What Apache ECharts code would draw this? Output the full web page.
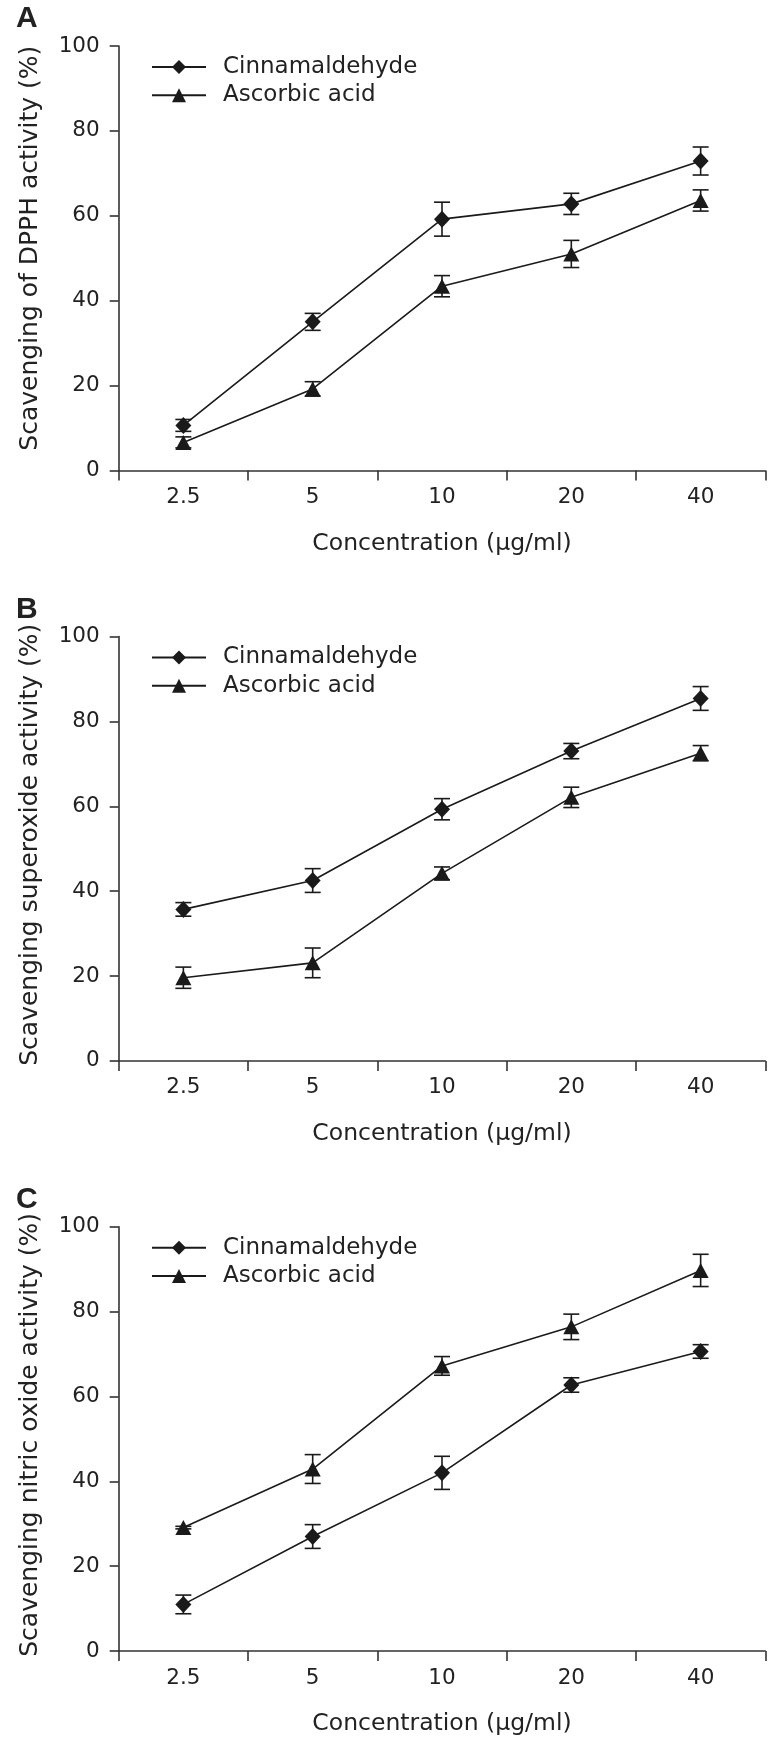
<!DOCTYPE html>
<html><head><meta charset="utf-8">
<script src="https://cdn.jsdelivr.net/npm/echarts@6/dist/echarts.min.js"></script>
<style>html,body{margin:0;padding:0;background:#fff}#c{width:776px;height:1739px}</style>
</head><body><div id="c"></div>
<script>
// ---- data ----
const categories = ['2.5', '5', '10', '20', '40'];
const seriesNames = ['Cinnamaldehyde', 'Ascorbic acid'];
const panelLetters = ['A', 'B', 'C'];
const yTitles = ['Scavenging of DPPH activity (%)', 'Scavenging superoxide activity (%)', 'Scavenging nitric oxide activity (%)'];
const xTitle = 'Concentration (\u03bcg/ml)';
const yMin = 0, yMax = 100, yStep = 20;

// Panel A: DPPH
const dpphCinn = [10.6, 35.0, 59.2, 62.8, 72.9];
const dpphCinnErr = [1.4, 2.0, 4.0, 2.5, 3.3];
const dpphAsc = [6.6, 19.2, 43.4, 51.0, 63.6];
const dpphAscErr = [1.3, 1.7, 2.5, 3.2, 2.5];
// Panel B: superoxide
const supCinn = [35.7, 42.5, 59.3, 73.0, 85.4];
const supCinnErr = [1.6, 2.8, 2.5, 1.8, 2.8];
const supAsc = [19.6, 23.1, 44.2, 62.1, 72.5];
const supAscErr = [2.5, 3.5, 1.5, 2.4, 1.8];
// Panel C: nitric oxide
const noCinn = [11.0, 27.0, 42.0, 62.7, 70.6];
const noCinnErr = [2.2, 2.8, 3.9, 1.7, 1.6];
const noAsc = [29.1, 42.9, 67.2, 76.4, 89.7];
const noAscErr = [0.3, 3.4, 2.2, 3.0, 3.8];

const panels = [
  { cinn: dpphCinn, cinnErr: dpphCinnErr, asc: dpphAsc, ascErr: dpphAscErr },
  { cinn: supCinn, cinnErr: supCinnErr, asc: supAsc, ascErr: supAscErr },
  { cinn: noCinn, cinnErr: noCinnErr, asc: noAsc, ascErr: noAscErr }
];

// ---- layout ----
const FONT = 'DejaVu Sans';
const INK = '#1a1a1a';
const AXIS = '#333';
const gridTops = [46, 636.5, 1226.7];
const gridH = 424.4;
const gridLeft = 118.7;
const gridRight = 10.7;
const yTitleShift = [20, 8, 8];

function errRender(params, api) {
  const i = api.value(0), v = api.value(1), e = api.value(2);
  const t = api.coord([i, v + e]);
  const b = api.coord([i, v - e]);
  const hw = 8;
  const st = { stroke: INK, lineWidth: 1.6 };
  return {
    type: 'group',
    children: [
      { type: 'line', shape: { x1: t[0], y1: t[1], x2: b[0], y2: b[1] }, style: st },
      { type: 'line', shape: { x1: t[0] - hw, y1: t[1], x2: t[0] + hw, y2: t[1] }, style: st },
      { type: 'line', shape: { x1: b[0] - hw, y1: b[1], x2: b[0] + hw, y2: b[1] }, style: st }
    ]
  };
}

const grid = [], xAxis = [], yAxis = [], series = [], legend = [], graphic = [];

panels.forEach((p, k) => {
  grid.push({ left: gridLeft, right: gridRight, top: gridTops[k], height: gridH, containLabel: false });
  xAxis.push({
    type: 'category', gridIndex: k, data: categories, boundaryGap: true,
    name: xTitle, nameLocation: 'middle', nameGap: 61,
    nameTextStyle: { fontFamily: FONT, fontSize: 23.5, color: '#222' },
    axisLine: { lineStyle: { color: AXIS, width: 1.6 } },
    axisTick: { show: true, inside: false, length: 10, alignWithLabel: false, lineStyle: { color: AXIS, width: 1.6 } },
    axisLabel: { fontFamily: FONT, fontSize: 21.5, color: '#222', margin: 16 },
    splitLine: { show: false }
  });
  yAxis.push({
    type: 'value', gridIndex: k, min: yMin, max: yMax, interval: yStep,
    name: yTitles[k], nameLocation: 'middle', nameGap: 76,
    nameTextStyle: { fontFamily: FONT, fontSize: 25, color: '#222', padding: [0, 0, 0, yTitleShift[k]] },
    axisLine: { show: true, lineStyle: { color: AXIS, width: 1.6 } },
    axisTick: { show: true, inside: false, length: 9, lineStyle: { color: AXIS, width: 1.6 } },
    axisLabel: { fontFamily: FONT, fontSize: 21.5, color: '#222', margin: 19 },
    splitLine: { show: false }
  });
  const groups = [
    { name: seriesNames[0], vals: p.cinn, errs: p.cinnErr, symbol: 'diamond', size: [16, 17] },
    { name: seriesNames[1], vals: p.asc, errs: p.ascErr, symbol: 'triangle', size: [16, 15] }
  ];
  groups.forEach(g => {
    series.push({
      type: 'custom', xAxisIndex: k, yAxisIndex: k, z: 1, silent: true,
      renderItem: errRender,
      encode: { x: 0, y: 1 },
      data: g.vals.map((v, i) => [i, v, g.errs[i]])
    });
    series.push({
      type: 'line', name: g.name, xAxisIndex: k, yAxisIndex: k, z: 3,
      data: g.vals, symbol: g.symbol, symbolSize: g.size, showSymbol: true,
      lineStyle: { color: INK, width: 1.6 },
      itemStyle: { color: INK, borderWidth: 0 },
      animation: false
    });
  });
  legend.push({
    orient: 'vertical', left: 151, top: gridTops[k] + 9.5, padding: 0,
    itemWidth: 54, itemHeight: 17.5, itemGap: 5.3,
    data: seriesNames,
    textStyle: { fontFamily: FONT, fontSize: 23, color: '#222', lineHeight: 23, padding: [0, 0, 0, 12] },
    selectedMode: false
  });
  graphic.push({
    type: 'text', left: 16, top: gridTops[k] - 42,
    style: { text: panelLetters[k], font: 'bold 30px "Liberation Sans", Arial, sans-serif', fill: '#222' }
  });
});

const chart = echarts.init(document.getElementById('c'), null, { renderer: 'canvas' });
chart.setOption({
  backgroundColor: '#fff',
  animation: false,
  grid, xAxis, yAxis, series, legend, graphic
});
</script>
</body></html>
